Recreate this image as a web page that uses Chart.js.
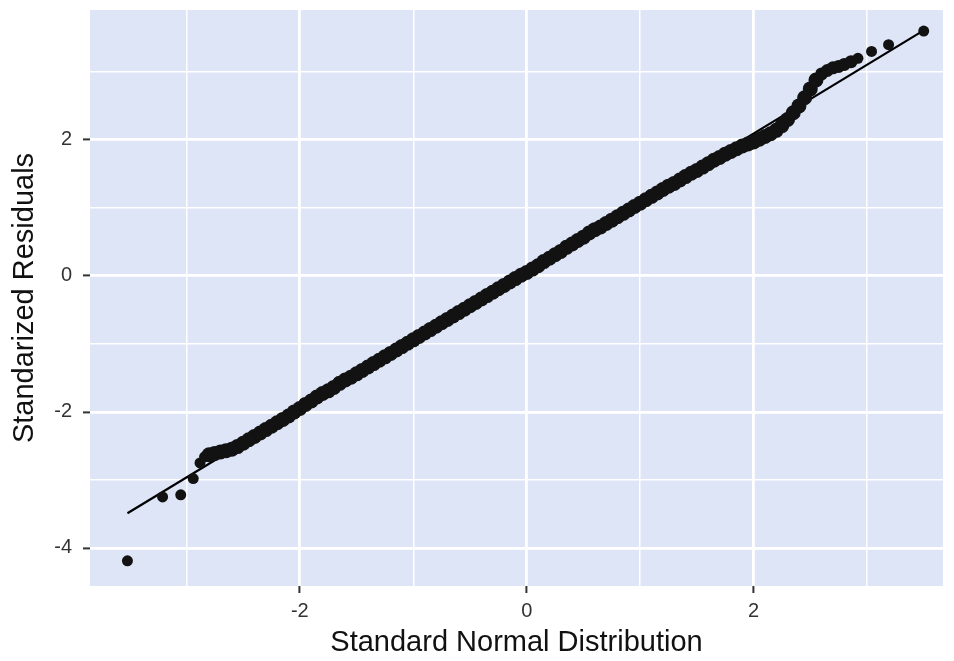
<!DOCTYPE html>
<html>
<head>
<meta charset="utf-8">
<script src="https://cdn.jsdelivr.net/npm/chart.js@4.4.0/dist/chart.umd.min.js"></script>
<style>
  html, body { margin: 0; padding: 0; background: #ffffff; }
  #wrap { width: 954px; height: 661px; }
</style>
</head>
<body>
<div id="wrap"><canvas id="qq-chart"></canvas></div>
<script>
// theoretical quantiles (x) and standardized residuals (y)
var theoretical = [
  -3.52, -3.21, -3.05, -2.94, -2.88, -2.84,
  -2.80, -2.75, -2.70, -2.65, -2.60, -2.55, -2.50, -2.45, -2.40, -2.35,
  -2.30, -2.25, -2.20, -2.15, -2.10, -2.05, -2.00, -1.95, -1.90, -1.85,
  -1.80, -1.75, -1.70, -1.65, -1.60, -1.55, -1.50, -1.45, -1.40, -1.35,
  -1.30, -1.25, -1.20, -1.15, -1.10, -1.05, -1.00, -0.95, -0.90, -0.85,
  -0.80, -0.75, -0.70, -0.65, -0.60, -0.55, -0.50, -0.45, -0.40, -0.35,
  -0.30, -0.25, -0.20, -0.15, -0.10, -0.05, 0.00, 0.05, 0.10, 0.15,
  0.20, 0.25, 0.30, 0.35, 0.40, 0.45, 0.50, 0.55, 0.60, 0.65,
  0.70, 0.75, 0.80, 0.85, 0.90, 0.95, 1.00, 1.05, 1.10, 1.15,
  1.20, 1.25, 1.30, 1.35, 1.40, 1.45, 1.50, 1.55, 1.60, 1.65,
  1.70, 1.75, 1.80, 1.85, 1.90, 1.95, 2.00, 2.05, 2.10, 2.15,
  2.20, 2.25, 2.30, 2.35, 2.40, 2.45, 2.50, 2.55, 2.60, 2.65,
  2.70, 2.75, 2.80, 2.86, 2.92, 3.04, 3.19, 3.50
];
var residuals = [
  -4.19, -3.25, -3.22, -2.98, -2.75, -2.66,
  -2.63, -2.61, -2.59, -2.57, -2.55, -2.51, -2.46, -2.41, -2.36, -2.31,
  -2.26, -2.21, -2.16, -2.11, -2.06, -2.00, -1.95, -1.89, -1.84, -1.78,
  -1.73, -1.69, -1.64, -1.58, -1.53, -1.49, -1.44, -1.39, -1.34, -1.29,
  -1.24, -1.19, -1.14, -1.09, -1.04, -0.99, -0.94, -0.89, -0.84, -0.79,
  -0.74, -0.69, -0.64, -0.59, -0.54, -0.49, -0.44, -0.39, -0.34, -0.29,
  -0.24, -0.19, -0.14, -0.09, -0.04, 0.01, 0.05, 0.10, 0.15, 0.21,
  0.26, 0.31, 0.36, 0.42, 0.47, 0.52, 0.57, 0.63, 0.68, 0.72,
  0.77, 0.82, 0.87, 0.92, 0.97, 1.02, 1.07, 1.12, 1.17, 1.22,
  1.27, 1.32, 1.36, 1.41, 1.46, 1.51, 1.55, 1.60, 1.65, 1.70,
  1.74, 1.79, 1.83, 1.87, 1.91, 1.94, 1.97, 2.01, 2.05, 2.09,
  2.14, 2.21, 2.30, 2.40, 2.50, 2.62, 2.75, 2.88, 2.97, 3.02,
  3.06, 3.08, 3.11, 3.15, 3.20, 3.30, 3.40, 3.60
];
// reference line end points
var lineX = [-3.52, 3.50];
var lineY = [-3.49, 3.61];

var xLimits = [-3.85, 3.67];
var yLimits = [-4.56, 3.91];

var xTitle = "Standard Normal Distribution";
var yTitle = "Standarized Residuals";

var panelColor = "#dee5f6";

function toPoints(xs, ys) {
  var out = [];
  for (var i = 0; i < xs.length; i++) {
    out.push({ x: xs[i], y: ys[i] });
  }
  return out;
}

const panelBackground = {
  id: "panelBackground",
  beforeDraw: function (chart) {
    var area = chart.chartArea;
    var ctx = chart.ctx;
    ctx.save();
    ctx.fillStyle = panelColor;
    ctx.fillRect(area.left, area.top, area.right - area.left, area.bottom - area.top);
    ctx.restore();
  }
};

function isMajor(ctx) {
  return ctx.tick && ctx.tick.value % 2 === 0;
}

function gridOptions() {
  return {
    color: "#ffffff",
    lineWidth: function (ctx) { return isMajor(ctx) ? 2.8 : 1.5; },
    drawTicks: true,
    tickLength: 7,
    tickWidth: 2,
    tickColor: function (ctx) { return isMajor(ctx) ? "#333333" : "rgba(0,0,0,0)"; }
  };
}

function evenLabel(value) {
  return value % 2 === 0 ? String(value) : "";
}

// lone tail points are drawn smaller than the overlapping middle of the band
function pointSize(ctx) {
  var q = theoretical[ctx.dataIndex];
  if (q < -2.82 || q > 2.9) return 5.5;
  if (q > 2.55) return 6.5;
  return 7.5;
}

Chart.defaults.font.family = "'Liberation Sans', Arial, sans-serif";
Chart.defaults.animation = false;

new Chart(document.getElementById("qq-chart"), {
  type: "scatter",
  data: {
    datasets: [
      {
        label: "residuals",
        data: toPoints(theoretical, residuals),
        backgroundColor: "#121212",
        borderColor: "#121212",
        borderWidth: 0,
        pointRadius: pointSize,
        pointHoverRadius: pointSize
      },
      {
        label: "qq line",
        data: toPoints(lineX, lineY),
        showLine: true,
        borderColor: "#000000",
        borderWidth: 2.2,
        pointRadius: 0
      }
    ]
  },
  plugins: [panelBackground],
  options: {
    responsive: true,
    maintainAspectRatio: false,
    layout: { padding: { top: 10, right: 11, bottom: 0, left: 0 } },
    plugins: {
      legend: { display: false },
      tooltip: { enabled: false }
    },
    scales: {
      x: {
        type: "linear",
        min: xLimits[0],
        max: xLimits[1],
        border: { display: false },
        grid: gridOptions(),
        ticks: {
          stepSize: 1,
          includeBounds: false,
          color: "#333333",
          font: { size: 20 },
          padding: 6,
          maxRotation: 0,
          autoSkip: false,
          callback: evenLabel
        },
        title: {
          display: true,
          text: xTitle,
          color: "#111111",
          font: { size: 29 },
          padding: { top: 0, bottom: 1 }
        },
        afterFit: function (scale) {
          scale.height = 75;
          scale.paddingLeft = 0;
          scale.paddingRight = 0;
        }
      },
      y: {
        type: "linear",
        min: yLimits[0],
        max: yLimits[1],
        border: { display: false },
        grid: gridOptions(),
        ticks: {
          stepSize: 1,
          includeBounds: false,
          color: "#333333",
          font: { size: 20 },
          padding: 11,
          autoSkip: false,
          callback: evenLabel
        },
        title: {
          display: true,
          text: yTitle,
          color: "#111111",
          font: { size: 29 },
          padding: { top: 8, bottom: 0 }
        },
        afterFit: function (scale) {
          scale.width = 90;
          scale.paddingTop = 0;
          scale.paddingBottom = 0;
        }
      }
    }
  }
});
</script>
</body>
</html>
